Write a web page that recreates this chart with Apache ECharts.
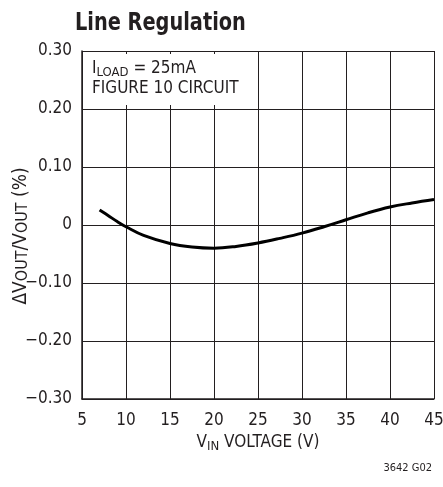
<!DOCTYPE html>
<html><head><meta charset="utf-8">
<script src="https://cdn.jsdelivr.net/npm/echarts@6/dist/echarts.min.js"></script>
<style>html,body{margin:0;padding:0;background:#fff}#c{width:443px;height:487px}</style>
</head><body><div id="c"></div>
<script>
// Data
const vin = [7, 8, 9, 10, 12, 15, 17.5, 20, 22.5, 25, 27.5, 30, 32.5, 35, 37.5, 40, 42.5, 45];
const dvPct = [0.026, 0.016, 0.006, -0.003, -0.018, -0.032, -0.038, -0.040, -0.037, -0.031, -0.023, -0.014, -0.003, 0.009, 0.021, 0.031, 0.038, 0.044];
const xTickLabels = ['5', '10', '15', '20', '25', '30', '35', '40', '45'];
const yTickLabels = ['\u22120.30', '\u22120.20', '\u22120.10', '0', '0.10', '0.20', '0.30'];

const FONT = '"Liberation Sans Narrow", "DejaVu Sans Condensed", "Liberation Sans", sans-serif';
const chart = echarts.init(document.getElementById('c'), null, {renderer: 'canvas'});
chart.setOption({
  animation: false,
  backgroundColor: '#fff',
  textStyle: {fontFamily: FONT, color: '#231f20'},
  graphic: [{
    type: 'text',
    x: 75, y: 11,
    scaleX: 0.86,
    style: {text: 'Line Regulation', fontFamily: FONT, fontWeight: 'bold', fontSize: 25, fill: '#231f20', verticalAlign: 'top'}
  }],
  title: [{
    text: 'I{s|LOAD} = 25mA\nFIGURE 10 CIRCUIT',
    left: 83, top: 54,
    padding: [5, 4, 6, 9],
    backgroundColor: '#fff',
    textStyle: {
      fontFamily: FONT, fontWeight: 'normal', fontSize: 17, color: '#231f20', lineHeight: 20,
      rich: {s: {fontFamily: FONT, fontSize: 13, verticalAlign: 'bottom', lineHeight: 12, padding: [6, 0, 0, 0], color: '#231f20'}}
    }
  }, {
    text: '3642 G02',
    right: 6, top: 458,
    textStyle: {fontFamily: FONT, fontWeight: 'normal', fontSize: 11, color: '#231f20'}
  }],
  grid: {left: 82, right: 9, top: 51, bottom: 88, outerBoundsMode: 'none', containLabel: false},
  xAxis: {
    type: 'value', min: 5, max: 45, interval: 5,
    name: 'V{s|IN} VOLTAGE (V)', nameLocation: 'middle', nameGap: 33, nameMoveOverlap: false,
    nameTextStyle: {fontFamily: FONT, fontSize: 17, color: '#231f20',
      rich: {s: {fontFamily: FONT, fontSize: 13, verticalAlign: 'bottom', padding: [8, 0, 0, 0], color: '#231f20'}}},
    axisLine: {show: true, onZero: false, lineStyle: {color: '#231f20', width: 1.5}},
    axisTick: {show: false},
    axisLabel: {margin: 13, fontFamily: FONT, fontSize: 17, color: '#231f20',
      formatter: (v) => xTickLabels[Math.round((v - 5) / 5)]},
    splitLine: {show: true, lineStyle: {color: '#231f20', width: 1}}
  },
  yAxis: {
    type: 'value', min: -0.3, max: 0.3, interval: 0.1,
    name: '\u0394V{s|OUT}/V{s|OUT} (%)', nameLocation: 'middle', nameRotate: 90, nameGap: 51, nameMoveOverlap: false,
    nameTextStyle: {fontFamily: FONT, fontSize: 19, color: '#231f20', padding: [0, 22, 0, 0],
      rich: {s: {fontFamily: FONT, fontSize: 16, verticalAlign: 'bottom', padding: [3, 0, 0, 0], color: '#231f20'}}},
    axisLine: {show: true, onZero: false, lineStyle: {color: '#231f20', width: 1.5}},
    axisTick: {show: false},
    axisLabel: {margin: 10, padding: [4, 0, 0, 0], fontFamily: FONT, fontSize: 17, color: '#231f20',
      formatter: (v) => yTickLabels[Math.round((v + 0.3) / 0.1)]},
    splitLine: {show: true, lineStyle: {color: '#231f20', width: 1}}
  },
  series: [{
    type: 'line',
    data: vin.map((x, i) => [x, dvPct[i]]),
    smooth: 0.4,
    showSymbol: false,
    lineStyle: {color: '#000', width: 3},
    z: 3
  }]
});
</script></body></html>
